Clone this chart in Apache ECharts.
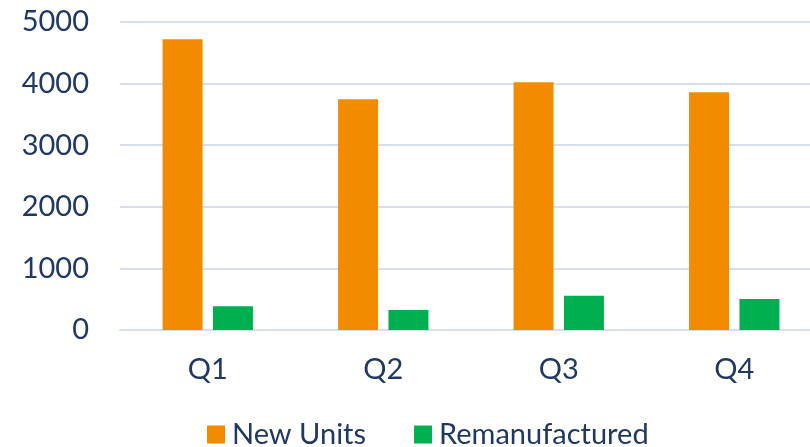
<!DOCTYPE html>
<html>
<head>
<meta charset="utf-8">
<script src="https://cdn.jsdelivr.net/npm/echarts@6/dist/echarts.min.js"></script>
<style>
html,body{margin:0;padding:0;background:#fff;}
#c{width:810px;height:447px;}
</style>
</head>
<body>
<div id="c"></div>
<script>
const categories = ['Q1', 'Q2', 'Q3', 'Q4'];
const newUnits = [4720, 3745, 4020, 3860];
const remanufactured = [385, 325, 555, 505];
const yTicks = [0, 1000, 2000, 3000, 4000, 5000];

const textColor = '#203864';
const fontFam = 'Lato, "Open Sans", sans-serif';
const chart = echarts.init(document.getElementById('c'), null, {renderer: 'canvas'});
chart.setOption({
  animation: false,
  backgroundColor: '#ffffff',
  grid: {left: 120, width: 702, top: 22, bottom: 117, containLabel: false, outerBoundsMode: 'none'},
  legend: {
    data: ['New Units', 'Remanufactured'],
    bottom: -7,
    left: 202,
    itemWidth: 18,
    itemHeight: 18,
    itemGap: 48,
    icon: 'rect',
    textStyle: {color: textColor, fontSize: 29, fontFamily: fontFam, padding: [0, 0, 0, 2]}
  },
  xAxis: {
    type: 'category',
    data: categories,
    axisLine: {show: true, lineStyle: {color: '#D6DEF0', width: 2}},
    axisTick: {show: false},
    axisLabel: {color: textColor, fontSize: 29, fontFamily: fontFam, margin: 25}
  },
  yAxis: {
    type: 'value',
    min: yTicks[0],
    max: yTicks[yTicks.length - 1],
    interval: 1000,
    axisLine: {show: false},
    axisTick: {show: false},
    splitLine: {lineStyle: {color: '#D6DEF0', width: 2}},
    axisLabel: {color: textColor, fontSize: 29, fontFamily: fontFam, margin: 31,
      formatter: function (v) { return String(v); }}
  },
  series: [
    {name: 'New Units', type: 'bar', data: newUnits, barWidth: 40, barGap: '26%',
     itemStyle: {color: '#F38B00'}},
    {name: 'Remanufactured', type: 'bar', data: remanufactured, barWidth: 40, barGap: '26%',
     itemStyle: {color: '#00B050'}}
  ]
});
</script>
</body>
</html>
